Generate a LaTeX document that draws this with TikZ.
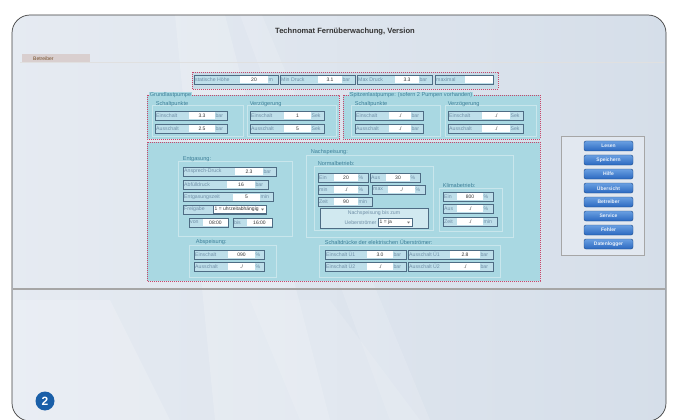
\documentclass[tikz,border=0pt]{standalone}
\usepackage{fontspec}
\setmainfont{Liberation Sans}
\usetikzlibrary{shapes.geometric}
\definecolor{bgmain}{HTML}{D5DEE9}
\definecolor{bgleft}{HTML}{E6EBF2}
\definecolor{cyanfill}{HTML}{A9D8E2}
\definecolor{fldlab}{HTML}{BEDFEA}
\definecolor{fldbd}{HTML}{4E6C84}
\definecolor{lbltext}{HTML}{6F8EA6}
\definecolor{secttext}{HTML}{3D7F98}
\definecolor{reddot}{HTML}{C8466A}
\definecolor{grpline}{HTML}{C9E6EC}
\definecolor{btnblue}{HTML}{2A68C0}
\definecolor{btntop}{HTML}{6AA0E2}
\definecolor{numblue}{HTML}{1A5FA8}
\definecolor{tabfill}{HTML}{D9CFCF}
\tikzset{
  fldstyle/.style={fill=fldlab,draw=fldbd,line width=0.6pt},
  lbl/.style={inner sep=0.4pt,text=lbltext,font=\fontsize{5.2}{5.6}\selectfont},
  val/.style={inner sep=0.4pt,text=black!80,font=\fontsize{5}{5.5}\selectfont},
  sect/.style={inner sep=0.6pt,anchor=west,text=secttext,font=\fontsize{5.6}{6}\selectfont},
  redbox/.style={draw=reddot,line width=0.9pt,dash pattern=on 0.9pt off 1.1pt,fill=cyanfill},
  grpbox/.style={draw=grpline,line width=0.7pt},
  btnstyle/.style={draw=btnblue!70!black,line width=0.4pt,rounded corners=2pt,top color=btntop,bottom color=btnblue,minimum width=49pt,minimum height=10pt,inner sep=0pt,text=white!85!btntop,font=\bfseries\fontsize{5}{5.5}\selectfont},
}
% #1 name #2 x #3 y #4 label width #5 label #6 value width #7 value #8 unit width #9 unit
\newcommand\uifield[9]{%
  \path[fldstyle] (#2,#3) rectangle ++({#4+#6+#8},9);
  \fill[white] ({#2+#4},{#3+1}) rectangle ++(#6,7);
  \node[lbl,anchor=west] (#1-l) at ({#2+0.6},{#3+4.5}) {#5};
  \node[val] (#1-v) at ({#2+#4+#6/2},{#3+4.5}) {#7};
  \node[lbl,anchor=west] (#1-u) at ({#2+#4+#6},{#3+4.5}) {#9};
}
% dropdown: #1 name #2 x #3 y #4 width #5 text
\newcommand\uidrop[5]{%
  \path[fill=white,draw=fldbd,line width=0.5pt] (#2,#3) rectangle ++(#4,8);
  \node[val,anchor=west] (#1) at ({#2+1},{#3+4}) {#5};
  \fill[black!55] ({#2+#4-5},{#3+3}) -- ++(3,0) -- ++(-1.5,2) -- cycle;
}
\begin{document}
\begin{tikzpicture}[x=1pt,y=-1pt]
\useasboundingbox (0,0) rectangle (673,420);
\fill[white] (0,0) rectangle (673,420);
% frame
\begin{scope}
\clip[rounded corners=18pt] (12,15) rectangle (666,421);
\shade[left color=bgleft,right color=bgmain] (0,0) rectangle (673,430);
\fill[white,opacity=0.18] (175,15) -- (225,15) -- (330,420) -- (215,420) -- cycle;
\fill[white,opacity=0.14] (240,15) -- (262,15) -- (430,420) -- (390,420) -- cycle;
\fill[white,opacity=0.18] (12,300) -- (110,300) -- (170,420) -- (12,420) -- cycle;
\fill[white,opacity=0.12] (250,300) -- (330,300) -- (420,420) -- (300,420) -- cycle;
\end{scope}
\draw[black!75,line width=0.7pt,rounded corners=18pt] (12,15) rectangle (666,421);
% title
\node[font=\bfseries\fontsize{7.6}{8}\selectfont,text=black!80] (title) at (345,32) {Technomat Fernüberwachung, Version};
% tab
\draw[black!12,line width=0.6pt] (20,62) -- (664,62);
\fill[tabfill] (22,54) rectangle (90,62.5);
\node[anchor=west,inner sep=0pt,text=brown!60!black,font=\fontsize{5}{5}\selectfont] (tab) at (33,58.3) {Betreiber};
% top box
\path[redbox,fill=bgmain!70!cyanfill] (192,72) rectangle (498,89);
\uifield{sh}{194}{75.5}{46}{statische Höhe}{28}{20}{10}{m}
\uifield{mind}{280}{75.5}{38}{Min Druck}{24}{3.1}{13}{bar}
\uifield{maxd}{357}{75.5}{38}{Max Druck}{24}{3.3}{13}{bar}
\uifield{maxi}{435}{75.5}{30}{maximal}{28}{}{0}{}
% Grundlastpumpe
\path[redbox] (147,95) rectangle (339,139);
\node[sect,fill=cyanfill] (grund) at (149,95) {Grundlastpumpe};
\draw[grpbox] (152,105) rectangle (243,136);
\draw[grpbox] (247,105) rectangle (336,136);
\node[sect] (gsp) at (155,104) {Schaltpunkte};
\node[sect] (gvz) at (249,104) {Verzögerung};
\uifield{g1}{155}{111}{34}{Einschalt}{26}{3.3}{12}{bar}
\uifield{g2}{155}{124}{34}{Ausschalt}{26}{2.5}{12}{bar}
\uifield{g3}{250}{111}{34}{Einschalt}{27}{1}{13}{Sek}
\uifield{g4}{250}{124}{34}{Ausschalt}{27}{5}{13}{Sek}
% Spitzenlastpumpe
\path[redbox] (343,95) rectangle (540,139);
\node[sect,fill=cyanfill] (spitz) at (349,95) {Spitzenlastpumpe: (sofern 2 Pumpen vorhanden)};
\draw[grpbox] (351,105) rectangle (440,136);
\draw[grpbox] (445,105) rectangle (536,136);
\node[sect] (ssp) at (354,104) {Schaltpunkte};
\node[sect] (svz) at (447,104) {Verzögerung};
\uifield{s1}{355}{111}{34}{Einschalt}{22}{./}{12}{bar}
\uifield{s2}{355}{124}{34}{Ausschalt}{22}{./}{12}{bar}
\uifield{s3}{448}{111}{34}{Einschalt}{28}{./}{13}{Sek}
\uifield{s4}{448}{124}{34}{Ausschalt}{28}{./}{13}{Sek}
% big box
\path[redbox] (147,142) rectangle (540,281);
% Entgasung
\draw[grpbox] (178,161) rectangle (292,236);
\node[sect] (entg) at (182,159) {Entgasung:};
\uifield{e1}{183}{167}{52}{Ansprech-Druck}{28}{2.3}{13}{bar}
\uifield{e2}{183}{180}{44}{Abfülldruck}{28}{16}{13}{bar}
\uifield{e3}{183}{192.5}{50}{Entgasungszeit}{27}{5}{13}{min}
\path[fldstyle] (183,205) rectangle (266,214);
\node[lbl,anchor=west] (frei) at (183.6,209.5) {Freigabe};
\uidrop{freidd}{213}{205.5}{53}{1 = uhrzeitabhängig}
\uifield{von}{189}{218}{14}{von}{25}{08:00}{0}{}
\uifield{bis}{233}{218}{14}{bis}{25}{16:00}{0}{}
% Nachspeisung
\draw[grpbox] (306,155) rectangle (513,237);
\node[sect] (nach) at (310,152) {Nachspeisung:};
\draw[grpbox] (314,166) rectangle (433,230);
\node[sect] (normal) at (317,163) {Normalbetrieb:};
\uifield{n1}{318}{173}{16}{Ein}{24}{20}{10}{\%}
\uifield{n2}{370}{173}{16}{Aus}{24}{30}{10}{\%}
\uifield{n3}{318}{185}{16}{min}{24}{./}{10}{\%}
\uifield{n4}{372}{185}{16}{max}{27}{./}{10}{\%}
\uifield{n5}{318}{197}{16}{Zeit}{24}{90}{14}{min}
\path[fill=fldlab!70!white,draw=fldbd,line width=0.6pt] (320,208) rectangle (428,228);
\node[lbl] (nbz) at (374,212.8) {Nachspeisung bis zum};
\node[lbl,anchor=east] (ueb) at (377,222.5) {Ueberströmer};
\uidrop{ubdd}{378}{218.5}{34}{1 = ja}
% Klimabetrieb
\draw[grpbox] (439,188) rectangle (502,231);
\node[sect] (klima) at (442,185) {Klimabetrieb:};
\uifield{k1}{443}{192}{14}{Ein}{26}{800}{10}{\%}
\uifield{k2}{443}{204}{14}{Aus}{26}{./}{10}{\%}
\uifield{k3}{443}{217}{14}{Zeit}{26}{./}{14}{min}
% Abspeisung
\draw[grpbox] (189,245) rectangle (276,277);
\node[sect] (absp) at (195,242) {Abspeisung:};
\uifield{a1}{194}{250}{34}{Einschalt}{27}{090}{9}{\%}
\uifield{a2}{194}{262}{34}{Ausschalt}{27}{./}{9}{\%}
% Schaltdruecke
\draw[grpbox] (319,245) rectangle (500,277);
\node[sect] (schd) at (324,242) {Schaltdrücke der elektrischen Überströmer:};
\uifield{u1}{325}{250}{42}{Einschalt Ü1}{26}{3.0}{13}{bar}
\uifield{u2}{408}{250}{42}{Ausschalt Ü1}{30}{2.8}{13}{bar}
\uifield{u3}{325}{262}{42}{Einschalt Ü2}{26}{./}{13}{bar}
\uifield{u4}{408}{262}{42}{Ausschalt Ü2}{30}{./}{13}{bar}
% buttons panel
\path[fill=white!30!bgmain,draw=black!35,line width=0.5pt] (561,136) rectangle (644,255);
\foreach \lab [count=\i from 0] in {Lesen,Speichern,Hilfe,Übersicht,Betreiber,Service,Fehler,Datenlogger}
  \node[btnstyle] (btn\i) at (608.5,{146+14*\i}) {\lab};
% separator
\draw[black!35,line width=1.4pt] (13,289) -- (665,289);
% number
\node[circle,fill=numblue,minimum size=19pt,inner sep=0pt,text=white,font=\bfseries\fontsize{12}{12}\selectfont] (num) at (45,401) {2};
\end{tikzpicture}
\end{document}
